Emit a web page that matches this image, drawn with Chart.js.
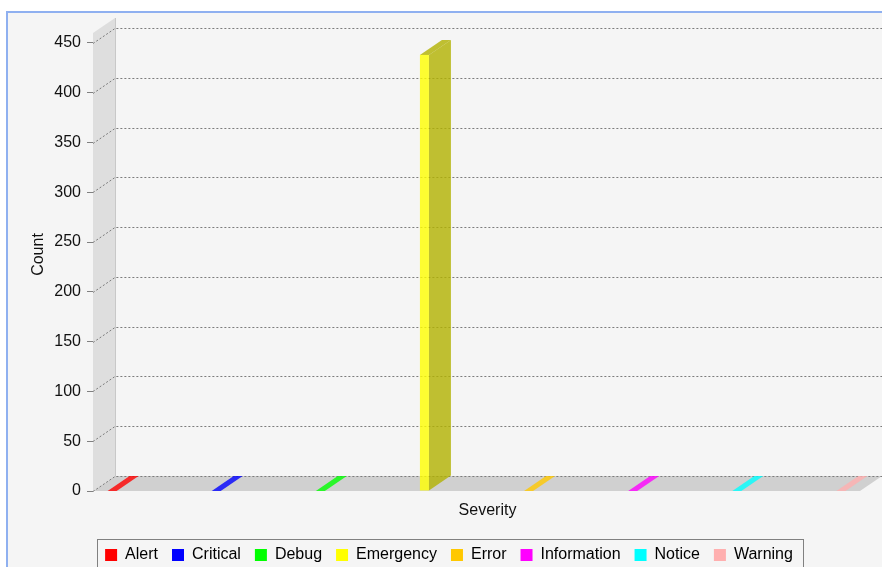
<!DOCTYPE html>
<html>
<head>
<meta charset="utf-8">
<script src="https://cdn.jsdelivr.net/npm/chart.js@4.4.1/dist/chart.umd.min.js"></script>
<style>
html, body { margin:0; padding:0; width:882px; height:567px; overflow:hidden; background:#fff; }
#frame { position:absolute; left:6px; top:11px; width:900px; height:600px; border:2px solid #8fb0f0; background:#f5f5f5; }
#chart { position:absolute; left:0; top:0; }
</style>
</head>
<body>
<div id="frame"></div>
<canvas id="chart" width="882" height="600"></canvas>
<script>
// data
const severities = ['Alert', 'Critical', 'Debug', 'Emergency', 'Error', 'Information', 'Notice', 'Warning'];
const counts = [0, 0, 0, 438, 0, 0, 0, 0];
const seriesColors = ['#ff0000', '#0000ff', '#00ff00', '#ffff00', '#ffc800', '#ff00ff', '#00ffff', '#ffafaf'];
const yMin = 0, yMax = 460, yStep = 50;
const xTitle = 'Severity', yTitle = 'Count';

// 3d look
const DX = 22, DY = 15;

function darker(hex) {
  const n = parseInt(hex.slice(1), 16);
  const r = Math.floor(((n >> 16) & 255) * 0.7);
  const g = Math.floor(((n >> 8) & 255) * 0.7);
  const b = Math.floor((n & 255) * 0.7);
  return 'rgb(' + r + ',' + g + ',' + b + ')';
}

function poly(ctx, pts) {
  ctx.beginPath();
  ctx.moveTo(pts[0][0], pts[0][1]);
  for (let i = 1; i < pts.length; i++) ctx.lineTo(pts[i][0], pts[i][1]);
  ctx.closePath();
  ctx.fill();
}

const threeD = {
  id: 'threeD',
  beforeDatasetsDraw(chart) {
    const ctx = chart.ctx, a = chart.chartArea, y = chart.scales.y;
    ctx.save();
    ctx.fillStyle = '#dedede';
    poly(ctx, [[a.left, a.top], [a.left + DX, a.top - DY], [a.left + DX, a.bottom - DY], [a.left, a.bottom]]);
    ctx.fillStyle = '#d0d0d0';
    poly(ctx, [[a.left, a.bottom], [a.left + DX, a.bottom - DY], [a.right + DX, a.bottom - DY], [a.right, a.bottom]]);
    ctx.strokeStyle = '#c8c8c8';
    ctx.lineWidth = 1;
    ctx.beginPath();
    ctx.moveTo(a.left + DX + 0.5, a.top - DY);
    ctx.lineTo(a.left + DX + 0.5, a.bottom - DY);
    ctx.stroke();
    // dashed gridlines on the wall and the back
    ctx.setLineDash([2, 2]);
    ctx.strokeStyle = '#7c7c7c';
    y.ticks.forEach(t => {
      const py = Math.round(y.getPixelForValue(t.value)) + 0.5;
      ctx.beginPath();
      ctx.moveTo(a.left, py);
      ctx.lineTo(a.left + DX, py - DY);
      ctx.lineTo(a.right + DX, py - DY);
      ctx.stroke();
    });
    ctx.restore();
  },
  beforeDatasetDraw() {
    return false;
  },
  afterDatasetsDraw(chart) {
    const ctx = chart.ctx;
    ctx.save();
    ctx.globalAlpha = 0.8;
    chart.data.datasets.forEach((ds, i) => {
      const meta = chart.getDatasetMeta(i);
      const bar = meta.data[0];
      const p = bar.getProps(['x', 'y', 'base', 'width'], true);
      const l = p.x - p.width / 2, r = p.x + p.width / 2;
      const t = Math.min(p.y, p.base), b = Math.max(p.y, p.base);
      const flat = b - t < 0.5;
      ctx.fillStyle = darker(seriesColors[i]);
      if (!flat) poly(ctx, [[r, t], [r + DX, t - DY], [r + DX, b - DY], [r, b]]);
      if (flat) ctx.fillStyle = seriesColors[i];
      poly(ctx, [[l, t], [l + DX, t - DY], [r + DX, t - DY], [r, t]]);
      ctx.fillStyle = seriesColors[i];
      ctx.fillRect(l, t, r - l, b - t);
    });
    ctx.restore();
  },
  afterDraw(chart) {
    const ctx = chart.ctx, a = chart.chartArea, y = chart.scales.y;
    ctx.save();
    ctx.fillStyle = '#111';
    ctx.font = '16px "Liberation Sans", Arial, sans-serif';
    ctx.textAlign = 'center';
    ctx.textBaseline = 'middle';
    ctx.fillText(xTitle, (a.left + a.right + DX) / 2, a.bottom + 20);
    ctx.translate(y.left + 1, (a.top - DY + a.bottom) / 2);
    ctx.rotate(-Math.PI / 2);
    ctx.fillText(yTitle, 0, 0);
    ctx.restore();
    // legend frame
    const hb = chart.legend.legendHitBoxes;
    const x0 = Math.min(...hb.map(h => h.left));
    const x1 = Math.max(...hb.map(h => h.left + h.width));
    ctx.save();
    ctx.strokeStyle = '#808080';
    ctx.lineWidth = 1;
    ctx.strokeRect(Math.round(x0 - 8) + 0.5, Math.round(hb[0].top - 8) + 0.5, Math.round(x1 - x0 + 18), 60);
    ctx.restore();
  }
};

Chart.defaults.font.family = '"Liberation Sans", Arial, sans-serif';
Chart.defaults.font.size = 16;
Chart.defaults.color = '#111';

const datasets = severities.map((s, i) => ({
  label: s,
  data: [counts[i]],
  backgroundColor: seriesColors[i],
  borderWidth: 0
}));

new Chart(document.getElementById('chart'), {
  type: 'bar',
  data: { labels: [''], datasets: datasets },
  options: {
    responsive: false,
    animation: false,
    events: [],
    categoryPercentage: 1.086,
    barPercentage: 0.0865,
    layout: { padding: { left: 38, right: 22, top: 33, bottom: 27 } },
    plugins: {
      tooltip: { enabled: false },
      legend: {
        position: 'bottom',
        labels: { boxWidth: 12, boxHeight: 12, padding: 14, color: '#000' }
      }
    },
    scales: {
      x: {
        ticks: { display: false },
        grid: { display: false },
        border: { display: false },
        afterFit(s) { s.height = 42; }
      },
      y: {
        min: yMin,
        max: yMax,
        ticks: { stepSize: yStep, includeBounds: false, padding: 6, color: '#111' },
        grid: { drawOnChartArea: false, drawTicks: true, tickLength: 6, color: '#808080' },
        border: { display: false },
        afterFit(s) { s.width = 55; }
      }
    }
  },
  plugins: [threeD]
});
</script>
</body>
</html>
